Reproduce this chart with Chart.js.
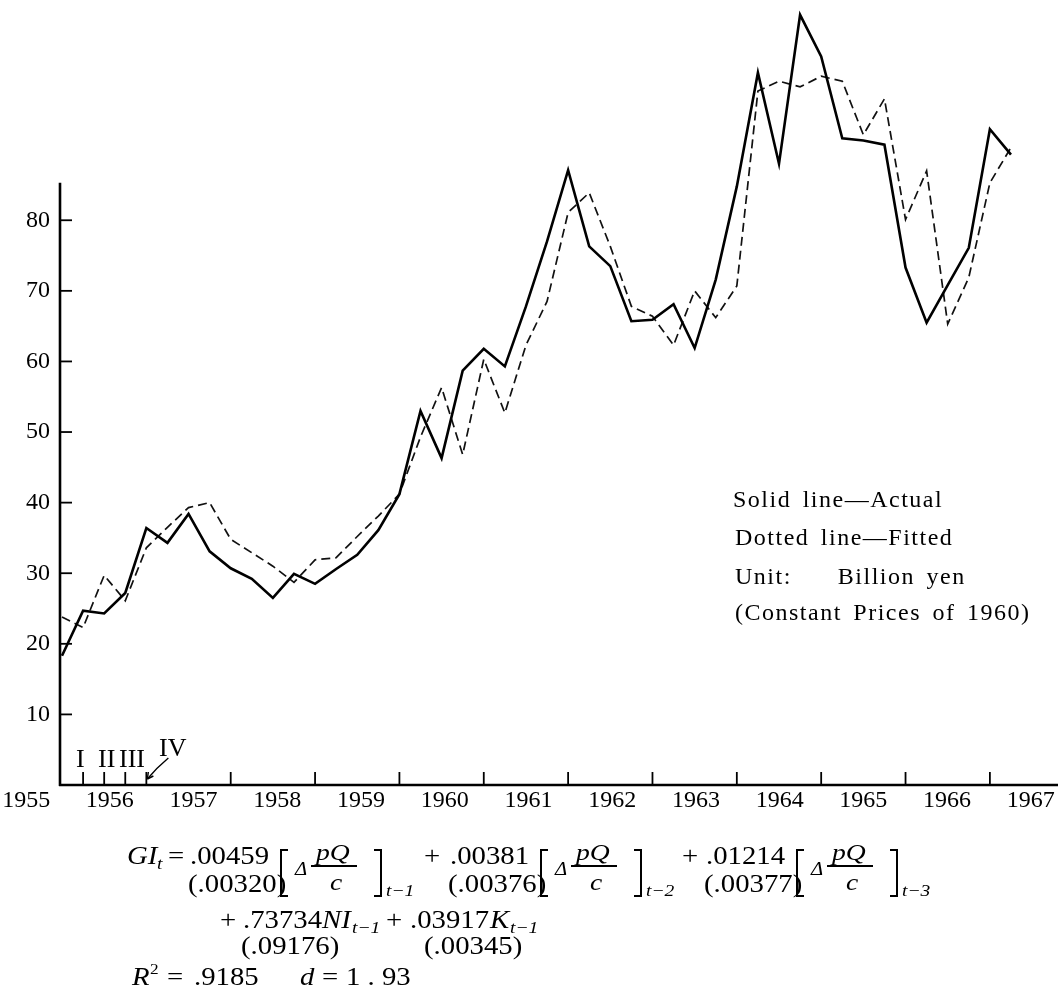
<!DOCTYPE html>
<html>
<head>
<meta charset="utf-8">
<script src="https://cdn.jsdelivr.net/npm/chart.js@4.4.1/dist/chart.umd.min.js"></script>
<style>
  body { margin: 0; background: #fff; }
  #wrap { position: relative; width: 1058px; height: 992px; overflow: hidden; }
  #chart { position: absolute; left: 0; top: 0; }
  .t { position: absolute; font-family: 'Liberation Serif', 'DejaVu Serif', serif; color: #000; white-space: pre; }
  .i { font-style: italic; }
  .note { letter-spacing: 1.5px; word-spacing: 4px; }
  .eq { transform: scaleX(1.15); transform-origin: 0 0; }
  .brk { position: absolute; border: 2px solid #000; width: 6px; height: 44px; }
  .bl { border-right: none; }
  .br { border-left: none; }
  .bar { position: absolute; height: 1.5px; background: #000; }
</style>
</head>
<body>
<div id="wrap">
  <canvas id="chart" width="1058" height="992"></canvas>
</div>
<script>
// quarterly series, 1955 IV .. 1967 I  (billion yen, constant 1960 prices)
const quarters = [];
quarters.push('1955 IV');
for (let yr = 1956; yr <= 1966; yr++) {
    ['I', 'II', 'III', 'IV'].forEach(q => quarters.push(yr + ' ' + q));
}
quarters.push('1967 I');

const actual = [18.3, 24.7, 24.3, 27.2, 36.4, 34.3, 38.4, 33.1, 30.7, 29.2,
                26.5, 29.9, 28.5, 30.6, 32.6, 36.1, 41.2, 53.0, 46.3, 58.7,
                61.8, 59.3, 67.8, 77.0, 87.1, 76.3, 73.5, 65.7, 65.9, 68.1,
                61.9, 71.6, 84.8, 100.9, 88.0, 109.1, 103.2, 91.6, 91.3, 90.7,
                73.3, 65.5, 70.8, 76.1, 92.9, 89.3];

const fitted = [23.8, 22.3, 29.7, 26.1, 33.6, 36.5, 39.3, 40.0, 34.8, 32.9,
                31.0, 28.7, 31.9, 32.2, 35.2, 38.1, 41.2, 49.3, 56.3, 46.8,
                60.3, 52.7, 62.3, 68.5, 81.1, 83.9, 76.3, 67.8, 66.4, 62.3,
                70.0, 66.2, 70.7, 98.3, 99.7, 98.9, 100.4, 99.7, 92.1, 97.2,
                80.1, 87.0, 65.3, 71.9, 85.3, 90.3];

const years = ['1955', '1956', '1957', '1958', '1959', '1960', '1961',
               '1962', '1963', '1964', '1965', '1966', '1967'];
const yTicks = [10, 20, 30, 40, 50, 60, 70, 80];
const quarterTicks = [1, 2, 3, 4, 8, 12, 16, 20, 24, 28, 32, 36, 40, 44];
const romans = ['I', 'II', 'III', 'IV'];
const yAxisTop = 85.3;

const FONT = "'Liberation Serif', 'DejaVu Serif', serif";

// year labels sit roughly in the middle of each year's quarters
const yearPos = years.map((y, k) => (k - 1) * 4 + 2.3 - 0.03 * k);

const oldAxes = {
    id: 'oldAxes',
    afterDraw(chart) {
        const ctx = chart.ctx;
        const x = chart.scales.x, y = chart.scales.y;
        const x0 = chart.chartArea.left;
        const y0 = y.getPixelForValue(0);
        ctx.save();
        ctx.strokeStyle = '#000';
        ctx.lineWidth = 2.6;
        ctx.beginPath();
        ctx.moveTo(x0, y0 + 1);
        ctx.lineTo(x0, y.getPixelForValue(yAxisTop));
        ctx.stroke();
        ctx.lineWidth = 2.4;
        ctx.beginPath();
        ctx.moveTo(x0 - 1, y0);
        ctx.lineTo(chart.chartArea.right, y0);
        ctx.stroke();
        ctx.lineWidth = 1.8;
        yTicks.forEach(v => {
            const p = y.getPixelForValue(v);
            ctx.beginPath(); ctx.moveTo(x0, p); ctx.lineTo(x0 + 12, p); ctx.stroke();
        });
        quarterTicks.forEach(i => {
            const p = x.getPixelForValue(i);
            ctx.beginPath(); ctx.moveTo(p, y0); ctx.lineTo(p, y0 - 13); ctx.stroke();
        });
        // little arrow from "IV" down to its tick
        const ax = x.getPixelForValue(4), ay = y0 - 6;
        ctx.lineWidth = 1.4;
        ctx.beginPath();
        ctx.moveTo(ax + 22, y0 - 27);
        ctx.quadraticCurveTo(ax + 10, y0 - 17, ax + 1, ay);
        ctx.stroke();
        ctx.beginPath();
        ctx.moveTo(ax + 1, ay);
        ctx.lineTo(ax + 2, ay - 7);
        ctx.moveTo(ax + 1, ay);
        ctx.lineTo(ax + 7, ay - 3);
        ctx.stroke();
        ctx.restore();
    }
};

const ctx = document.getElementById('chart').getContext('2d');
new Chart(ctx, {
    type: 'line',
    data: {
        datasets: [
            {
                label: 'Actual',
                data: actual.map((v, i) => ({x: i, y: v})),
                borderColor: '#000',
                borderWidth: 2.6,
                pointRadius: 0,
                tension: 0,
                fill: false,
                clip: false
            },
            {
                label: 'Fitted',
                data: fitted.map((v, i) => ({x: i, y: v})),
                borderColor: '#111',
                borderWidth: 1.7,
                borderDash: [9, 5],
                pointRadius: 0,
                tension: 0,
                fill: false,
                clip: false
            }
        ]
    },
    options: {
        responsive: false,
        animation: false,
        devicePixelRatio: 1,
        layout: { padding: 0 },
        plugins: { legend: { display: false }, tooltip: { enabled: false } },
        scales: {
            x: {
                type: 'linear',
                min: -0.095,
                max: 47.23,
                grid: { display: false, drawTicks: false },
                border: { display: false },
                afterBuildTicks: s => { s.ticks = yearPos.map(v => ({value: v})); },
                afterFit: s => {
                    s.height = 207;
                    s.paddingLeft = 0; s.paddingRight = 0;
                },
                ticks: {
                    autoSkip: false, maxRotation: 0, padding: 1,
                    color: '#000', font: { family: FONT, size: 24 },
                    callback: (v, i) => years[i]
                }
            },
            y: {
                min: 0,
                max: 111.2,
                grid: { display: false, drawTicks: false },
                border: { display: false },
                afterBuildTicks: s => { s.ticks = yTicks.map(v => ({value: v})); },
                afterFit: s => {
                    s.width = 60;
                    s.paddingTop = 0; s.paddingBottom = 0;
                },
                ticks: {
                    padding: 10,
                    color: '#000', font: { family: FONT, size: 24 },
                    callback: v => v
                }
            }
        }
    },
    plugins: [oldAxes]
});

// ---- text around the chart ----
const wrap = document.getElementById('wrap');
function put(txt, x, base, size, cls) {
    const d = document.createElement('div');
    d.className = 't ' + (cls || '');
    d.textContent = txt;
    d.style.left = x + 'px';
    d.style.top = (base - size * 0.8375) + 'px';
    d.style.fontSize = size + 'px';
    d.style.lineHeight = size + 'px';
    wrap.appendChild(d);
    return d;
}
function bracket(x, top, side) {
    const d = document.createElement('div');
    d.className = 'brk ' + side;
    d.style.left = x + 'px';
    d.style.top = top + 'px';
    wrap.appendChild(d);
}
function bar(x, y, w) {
    const d = document.createElement('div');
    d.className = 'bar';
    d.style.left = x + 'px';
    d.style.top = y + 'px';
    d.style.width = w + 'px';
    wrap.appendChild(d);
}

// quarter labels
[[76, 768], [98, 768], [119, 768], [159, 757]].forEach((p, k) => put(romans[k], p[0], p[1], 26));

// notes
put('Solid line\u2014Actual', 733, 507, 24, 'note');
put('Dotted line\u2014Fitted', 735, 545, 24, 'note');
put('Unit:    Billion yen', 735, 584, 24, 'note');
put('(Constant Prices of 1960)', 735, 620, 24, 'note');

// regression equation
function term(x0, coef, se, lag) {
    put(coef, x0, 864, 25, 'eq');
    put(se, x0 - 2, 892, 25, 'eq');
    const b = x0 + 90;
    bracket(b, 849, 'bl');
    put('\u0394', b + 15, 875, 18, 'i eq');
    put('pQ', b + 36, 860, 24, 'i eq');
    bar(b + 31, 865, 46);
    put('c', b + 50, 890, 24, 'i eq');
    bracket(b + 94, 849, 'br');
    put(lag, b + 106, 896, 17, 'i eq');
}
put('GI', 127, 864, 25, 'i eq');
put('t', 157, 869, 17, 'i eq');
put('=', 168, 864, 25, 'eq');
term(190, '.00459', '(.00320)', 't\u22121');
put('+', 424, 864, 25, 'eq');
term(450, '.00381', '(.00376)', 't\u22122');
put('+', 682, 864, 25, 'eq');
term(706, '.01214', '(.00377)', 't\u22123');

put('+', 220, 928, 25, 'eq');
put('.73734', 243, 928, 25, 'eq');
put('NI', 322, 928, 25, 'i eq');
put('t\u22121', 352, 933, 17, 'i eq');
put('+', 386, 928, 25, 'eq');
put('.03917', 410, 928, 25, 'eq');
put('K', 490, 928, 25, 'i eq');
put('t\u22121', 510, 933, 17, 'i eq');
put('(.09176)', 241, 954, 25, 'eq');
put('(.00345)', 424, 954, 25, 'eq');

put('R', 132, 985, 25, 'i eq');
put('2', 150, 975, 15, 'eq');
put('=', 167, 985, 25, 'eq');
put('.9185', 194, 985, 25, 'eq');
put('d', 300, 985, 25, 'i eq');
put('=', 322, 985, 25, 'eq');
put('1 . 93', 346, 985, 25, 'eq');
</script>
</body>
</html>
